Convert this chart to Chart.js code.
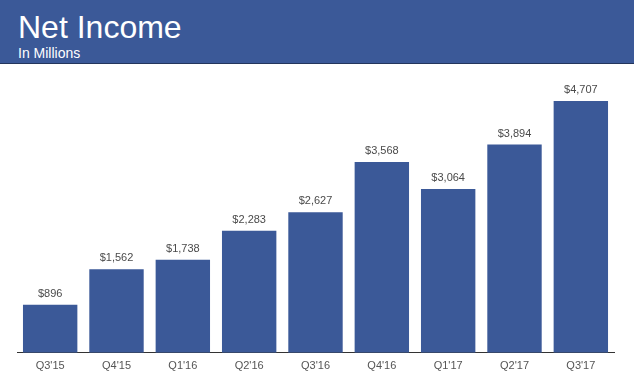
<!DOCTYPE html>
<html>
<head>
<meta charset="utf-8">
<script src="https://cdn.jsdelivr.net/npm/chart.js@4"></script>
<style>
  body { margin: 0; background: #fff; font-family: "Liberation Sans", Arial, sans-serif; }
  #wrap { position: relative; width: 634px; height: 378px; overflow: hidden; }
  #header {
    position: absolute; left: 0; top: 0; width: 634px; height: 63px;
    background: #3b5998; border-bottom: 1px solid #23355c; color: #fff;
  }
  #title { position: absolute; left: 18px; top: 10px; font-size: 32px; line-height: 34px; }
  #subtitle { position: absolute; left: 18px; top: 46px; font-size: 14px; line-height: 15px; }
  #chart { position: absolute; left: 0; top: 0; }
</style>
</head>
<body>
<div id="wrap">
  <canvas id="chart" width="634" height="384"></canvas>
  <div id="header">
    <div id="title">Net Income</div>
    <div id="subtitle">In Millions</div>
  </div>
</div>
<script>
const quarters = ["Q3'15", "Q4'15", "Q1'16", "Q2'16", "Q3'16", "Q4'16", "Q1'17", "Q2'17", "Q3'17"];
const netIncome = [896, 1562, 1738, 2283, 2627, 3568, 3064, 3894, 4707];

//..value labels above the bars
const valueLabels = {
    id: 'valueLabels',
    afterDatasetsDraw(chart) {
        const ctx = chart.ctx;
        const meta = chart.getDatasetMeta(0);
        ctx.save();
        ctx.font = '11px "Liberation Sans", Arial, sans-serif';
        ctx.fillStyle = '#4a4a4a';
        ctx.textAlign = 'center';
        ctx.textBaseline = 'middle';
        meta.data.forEach((bar, i) => {
            ctx.fillText('$' + netIncome[i].toLocaleString('en-US'), bar.x, bar.y - 11);
        });
        ctx.restore();
    }
};

new Chart(document.getElementById('chart'), {
    type: 'bar',
    data: {
        labels: quarters,
        datasets: [{
            data: netIncome,
            backgroundColor: '#3b5998',
            borderWidth: 0,
            categoryPercentage: 1,
            barPercentage: 0.82
        }]
    },
    options: {
        responsive: false,
        animation: false,
        layout: { padding: { left: 17, right: 20, top: 80, bottom: 4 } },
        plugins: { legend: { display: false }, tooltip: { enabled: false } },
        scales: {
            x: {
                grid: { display: false, drawTicks: false },
                border: { display: true, color: '#333', width: 1 },
                ticks: {
                    color: '#555',
                    padding: 7,
                    font: { family: '"Liberation Sans", Arial, sans-serif', size: 11 }
                }
            },
            y: {
                display: false,
                min: 0,
                max: 5100
            }
        }
    },
    plugins: [valueLabels]
});
</script>
</body>
</html>
